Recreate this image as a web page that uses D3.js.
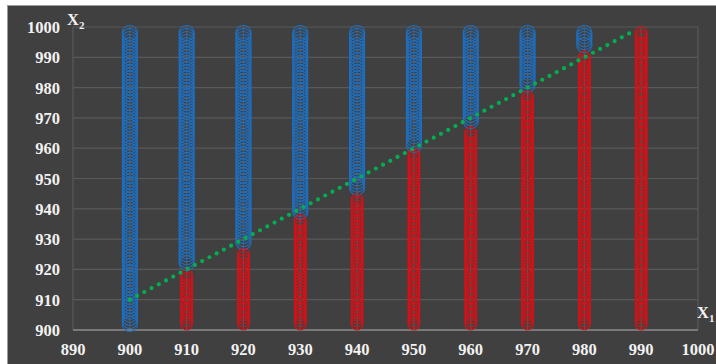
<!DOCTYPE html>
<html>
<head>
<meta charset="utf-8">
<script src="https://cdn.jsdelivr.net/npm/d3@7"></script>
<style>
  html, body { margin: 0; padding: 0; background: #ffffff; }
  svg { display: block; }
  text { font-family: "Liberation Serif", "Times New Roman", serif; font-weight: bold; fill: #f2f2f2; }
</style>
</head>
<body>
<svg id="chart" width="716" height="364"></svg>
<script>
// Columns of the grid (X1 values)
const x1Values = [900, 910, 920, 930, 940, 950, 960, 970, 980, 990];
// Lowest and highest X2 sampled in every column
const x2Min = 902;
const x2Max = 998;
// Highest X2 classed red in each column (null = none)
const redTop = [null, 918, 925, 936, 943, 958, 965, 977, 990, 998];
// Lowest X2 classed blue in each column (null = none)
const blueBottom = [902, 922, 929, 939, 947, 961, 969, 981, 994, null];
// Dividing line end points
const lineX1 = [900, 989];
const lineX2 = [910, 999];
// Axis ticks
const xTicks = [890, 900, 910, 920, 930, 940, 950, 960, 970, 980, 990, 1000];
const yTicks = [900, 910, 920, 930, 940, 950, 960, 970, 980, 990, 1000];

const svg = d3.select("#chart");

// panel background
svg.append("rect")
  .attr("x", 7.5).attr("y", 5.5)
  .attr("width", 712).attr("height", 362)
  .attr("fill", "#404040")
  .attr("stroke", "#9a9a9a").attr("stroke-width", 1);

const x = d3.scaleLinear().domain([890, 1000]).range([73, 698]);
const y = d3.scaleLinear().domain([900, 1000]).range([330, 27]);

// horizontal gridlines
svg.append("g").selectAll("line")
  .data(yTicks.filter(t => t > 900))
  .join("line")
  .attr("x1", x(890)).attr("x2", x(1000))
  .attr("y1", d => y(d)).attr("y2", d => y(d))
  .attr("stroke", "#595959").attr("stroke-width", 1.2);

// vertical gridlines
svg.append("g").selectAll("line")
  .data(xTicks)
  .join("line")
  .attr("x1", d => x(d)).attr("x2", d => x(d))
  .attr("y1", y(900)).attr("y2", y(1000))
  .attr("stroke", "#595959").attr("stroke-width", 1.2);

// x axis line
svg.append("line")
  .attr("x1", x(890)).attr("x2", x(1000))
  .attr("y1", y(900)).attr("y2", y(900))
  .attr("stroke", "#8c8c8c").attr("stroke-width", 1.3);

// grid points
const bluePts = [];
const redPts = [];
x1Values.forEach((c, i) => {
  d3.range(x2Min, x2Max + 1).forEach(v => {
    if (blueBottom[i] !== null && v >= blueBottom[i]) bluePts.push({ x1: c, x2: v });
    if (redTop[i] !== null && v <= redTop[i]) redPts.push({ x1: c, x2: v });
  });
});

svg.append("g").selectAll("circle")
  .data(bluePts)
  .join("circle")
  .attr("cx", d => x(d.x1)).attr("cy", d => y(d.x2))
  .attr("r", 7.6)
  .attr("fill", "none")
  .attr("stroke", "#1f6fc0").attr("stroke-width", 1.1);

svg.append("g").selectAll("circle")
  .data(redPts)
  .join("circle")
  .attr("cx", d => x(d.x1)).attr("cy", d => y(d.x2))
  .attr("r", 5.9)
  .attr("fill", "none")
  .attr("stroke", "#dd0f16").attr("stroke-width", 1.1);

// dividing line
svg.append("line")
  .attr("x1", x(lineX1[0])).attr("y1", y(lineX2[0]))
  .attr("x2", x(lineX1[1])).attr("y2", y(lineX2[1]))
  .attr("stroke", "#00b050").attr("stroke-width", 4.2)
  .attr("stroke-linecap", "round")
  .attr("stroke-dasharray", "0 8.2");

// tick labels
svg.append("g").selectAll("text")
  .data(xTicks)
  .join("text")
  .attr("x", d => x(d)).attr("y", 355)
  .attr("text-anchor", "middle")
  .attr("font-size", 16.5)
  .text(d => d);

svg.append("g").selectAll("text")
  .data(yTicks)
  .join("text")
  .attr("x", 60).attr("y", d => y(d) + 6)
  .attr("text-anchor", "end")
  .attr("font-size", 16.5)
  .text(d => d);

// axis titles
const tY = svg.append("text").attr("x", 67).attr("y", 25).attr("font-size", 16.5);
tY.append("tspan").text("X");
tY.append("tspan").attr("font-size", 11).attr("dy", 4).text("2");

const tX = svg.append("text").attr("x", 697).attr("y", 318).attr("font-size", 16.5);
tX.append("tspan").text("X");
tX.append("tspan").attr("font-size", 11).attr("dy", 4).text("1");
</script>
</body>
</html>
